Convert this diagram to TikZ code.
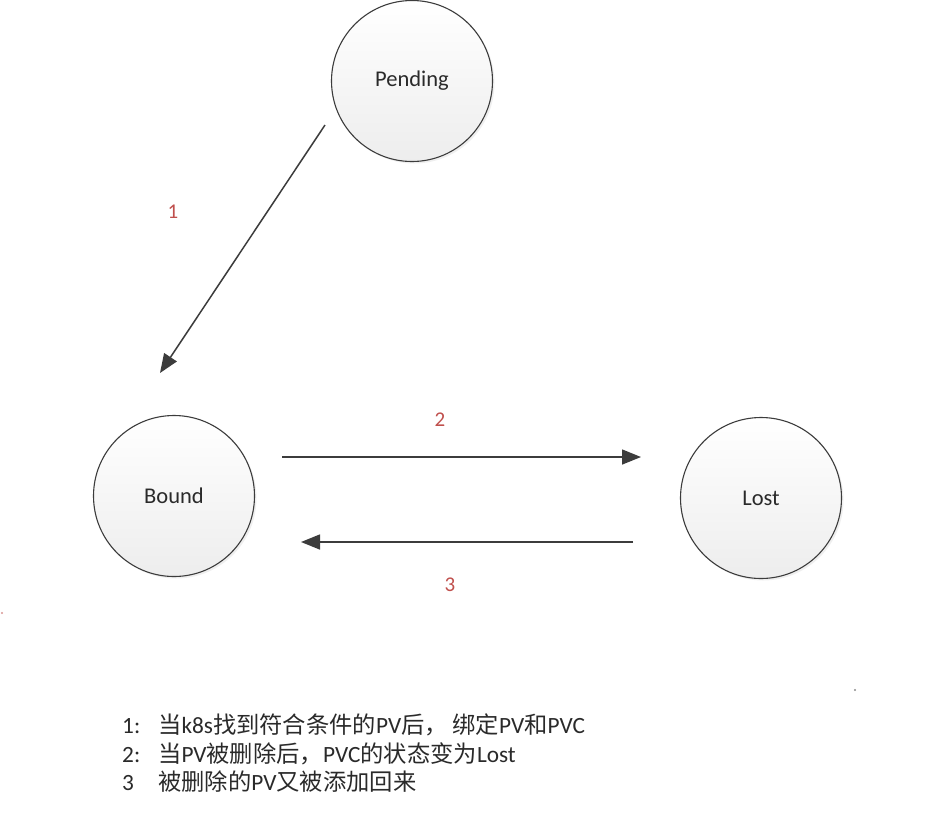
\documentclass[tikz,border=0pt]{standalone}
\usepackage{fontspec}
\setmainfont{Carlito}
\newfontfamily\cjk{Noto Sans CJK SC}
\usetikzlibrary{arrows.meta,shadows}
\definecolor{edgegray}{HTML}{3C3C3C}
\definecolor{labelred}{HTML}{C0504D}
\definecolor{txtgray}{HTML}{2A2A2A}
\begin{document}
\begin{tikzpicture}[x=1pt,y=-1pt,
  state/.style={circle, draw=edgegray, line width=1.1pt, minimum size=161pt, inner sep=0pt,
    top color=white, bottom color=black!7, text=txtgray,
    font=\fontsize{22.5}{26}\selectfont,
    drop shadow={opacity=0.12, shadow xshift=2pt, shadow yshift=-2pt}},
  conn/.style={draw=edgegray, line width=1.5pt, -{Triangle[length=19pt,width=15pt]}},
  num/.style={text=labelred, font=\fontsize{21}{24}\selectfont, inner sep=0pt},
  legend/.style={anchor=west, text=txtgray, inner sep=0pt, font=\fontsize{23.3}{26}\selectfont}]
\useasboundingbox (0,0) rectangle (926,812);
\fill[white] (0,0) rectangle (926,812);

\node[state] (pending) at (412,81) {Pending};
\node[state] (bound) at (174,496) {Bound};
\node[state] (lost) at (761,498) {Lost};

\coordinate (a1s) at (325,125);
\coordinate (a1e) at (160,373);
\coordinate (a2s) at (282,457);
\coordinate (a2e) at (641,457);
\coordinate (a3s) at (633,542);
\coordinate (a3e) at (301,542);

\draw[conn] (a1s) -- (a1e);
\draw[conn] (a2s) -- (a2e);
\draw[conn] (a3s) -- (a3e);

\node[num] (l1) at (173,212) {1};
\node[num] (l2) at (440,420) {2};
\node[num] (l3) at (450,585) {3};

\node[legend] (t1) at (122,725) {\makebox[36pt][l]{1:}{\cjk 当}k8s{\cjk 找到符合条件的}PV{\cjk 后，\hspace{0.2em}绑定}PV{\cjk 和}PVC};
\node[legend] (t2) at (122,754) {\makebox[36pt][l]{2:}{\cjk 当}PV{\cjk 被删除后，}PVC{\cjk 的状态变为}Lost};
\node[legend] (t3) at (122,782) {\makebox[36pt][l]{3}{\cjk 被删除的}PV{\cjk 又被添加回来}};

\fill[labelred!60] (2,613) circle (1.2pt);
\fill[black!45] (855,690) circle (1.2pt);
\end{tikzpicture}
\end{document}
